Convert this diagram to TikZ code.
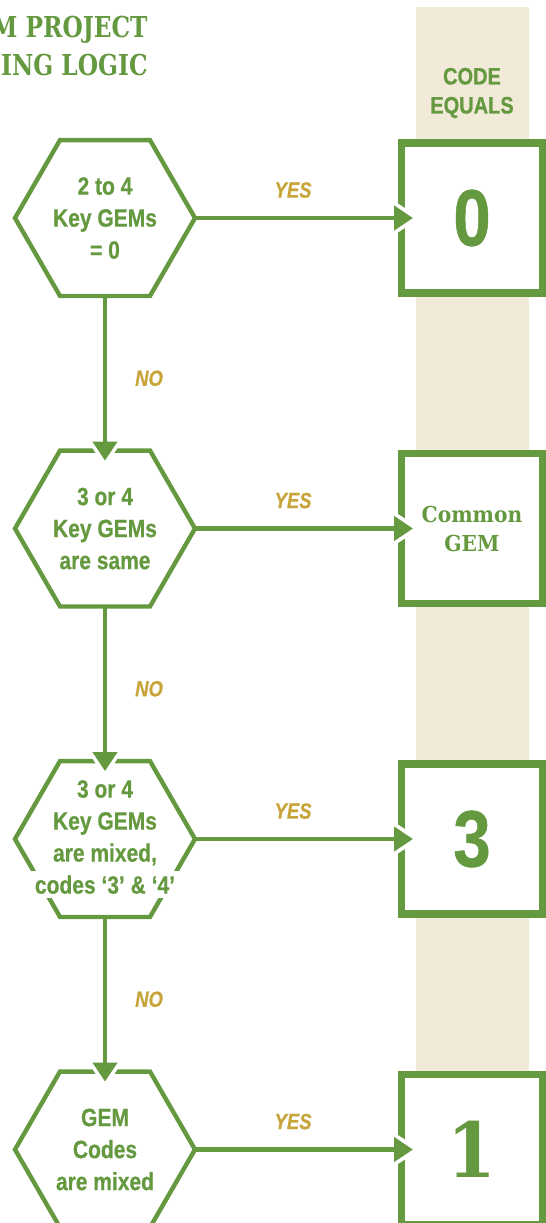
\documentclass[tikz,border=0pt]{standalone}
\usepackage{fontspec}
\usepackage{tikz}
\usetikzlibrary{calc,positioning,arrows.meta,shapes}
\newfontfamily\slabfont{DejaVu Serif}[FakeStretch=0.92]
\newfontfamily\titlefont{DejaVu Serif}[FakeStretch=0.81]
\newfontfamily\condfont{Liberation Sans}[FakeStretch=0.84,FakeBold=0.6]
\definecolor{gemgreen}{HTML}{659940}
\definecolor{gemgold}{HTML}{C8A53A}
\definecolor{gemtan}{HTML}{F1EAD9}
\tikzset{
  hexa/.style={regular polygon, regular polygon sides=6, minimum size=90pt, inner sep=0pt, outer sep=0pt, draw=gemgreen, line width=2.2pt},
  hextext/.style={align=center, text=gemgreen, inner sep=0pt, font=\condfont\bfseries\fontsize{12.5}{16}\selectfont},
  codebox/.style={rectangle, draw=gemgreen, fill=white, line width=3.6pt, minimum width=70.5pt, minimum height=75pt, inner sep=0pt, outer sep=0pt, text=gemgreen, align=center},
  yesno/.style={text=gemgold, inner sep=0pt, font=\condfont\bfseries\itshape\fontsize{11}{13}\selectfont},
  flow/.style={gemgreen, line width=2.2pt, -{Triangle[length=9.5pt,width=12pt]}},
  halo/.style={white, line width=2.2pt, -{Triangle[length=16pt,width=20pt]}}
}
\begin{document}
\begin{tikzpicture}[x=0.5pt,y=-0.5pt]
                  \useasboundingbox (0,0) rectangle (546,1223);
                  \clip (0,0) rectangle (546,1223);
                  \fill[gemtan] (416,7) rectangle (529,1223);
                  \node[anchor=north east, align=right, inner sep=0pt, text=gemgreen, font=\titlefont\bfseries\fontsize{14.4}{19}\selectfont] (title) at (148,15.6) {M PROJECT\\ING LOGIC};
                  \node[align=center, text=gemgreen, font=\condfont\bfseries\fontsize{11.9}{14.5}\selectfont] (codehead) at (472,93) {CODE\\EQUALS};
                  \node[hexa] (gem0) at (105,218) {};
                  \node[hexa] (gemsame) at (105,528.5) {};
                  \node[hexa] (gemmix) at (105,839) {};
                  \node[hexa] (gemcodes) at (105,1149.5) {};
                  \node[hextext] at (gem0) {2 to 4\\Key GEMs\\= 0};
                  \node[hextext] at (gemsame) {3 or 4\\Key GEMs\\are same};
                  \node[hextext] at (gemmix) {3 or 4\\Key GEMs\\are mixed,\\\setlength{\fboxsep}{2pt}\colorbox{white}{codes ‘3’ \& ‘4’}};
                  \node[hextext] at (gemcodes) {GEM\\Codes\\are mixed};
                  \node[codebox, font=\condfont\bfseries\fontsize{40}{40}\selectfont] (zero) at (472,218) {0};
                  \node[codebox, font=\slabfont\bfseries\fontsize{11}{14.5}\selectfont] (common) at (472,528.5) {Common\\GEM};
                  \node[codebox, font=\condfont\bfseries\fontsize{40}{40}\selectfont] (three) at (472,839) {3};
                  \node[codebox, font=\slabfont\bfseries\fontsize{38}{38}\selectfont] (one) at (472,1149.5) {1};
                  \draw[halo] (gem0.east) -- ($(zero.west)+(19,0)$);
                  \draw[flow] (gem0.east) -- ($(zero.west)+(11.5,0)$) node[yesno, pos=0.45, above=9pt] {YES};
                  \draw[halo] (gemsame.east) -- ($(common.west)+(19,0)$);
                  \draw[flow] (gemsame.east) -- ($(common.west)+(11.5,0)$) node[yesno, pos=0.45, above=9pt] {YES};
                  \draw[halo] (gemmix.east) -- ($(three.west)+(19,0)$);
                  \draw[flow] (gemmix.east) -- ($(three.west)+(11.5,0)$) node[yesno, pos=0.45, above=9pt] {YES};
                  \draw[halo] (gemcodes.east) -- ($(one.west)+(19,0)$);
                  \draw[flow] (gemcodes.east) -- ($(one.west)+(11.5,0)$) node[yesno, pos=0.45, above=9pt] {YES};
                  \draw[halo] (gem0.south) -- ($(gemsame.north)+(0,17)$);
                  \draw[flow] (gem0.south) -- ($(gemsame.north)+(0,10)$) node[yesno, midway, right=14pt] {NO};
                  \draw[halo] (gemsame.south) -- ($(gemmix.north)+(0,17)$);
                  \draw[flow] (gemsame.south) -- ($(gemmix.north)+(0,10)$) node[yesno, midway, right=14pt] {NO};
                  \draw[halo] (gemmix.south) -- ($(gemcodes.north)+(0,17)$);
                  \draw[flow] (gemmix.south) -- ($(gemcodes.north)+(0,10)$) node[yesno, midway, right=14pt] {NO};
\end{tikzpicture}
\end{document}
